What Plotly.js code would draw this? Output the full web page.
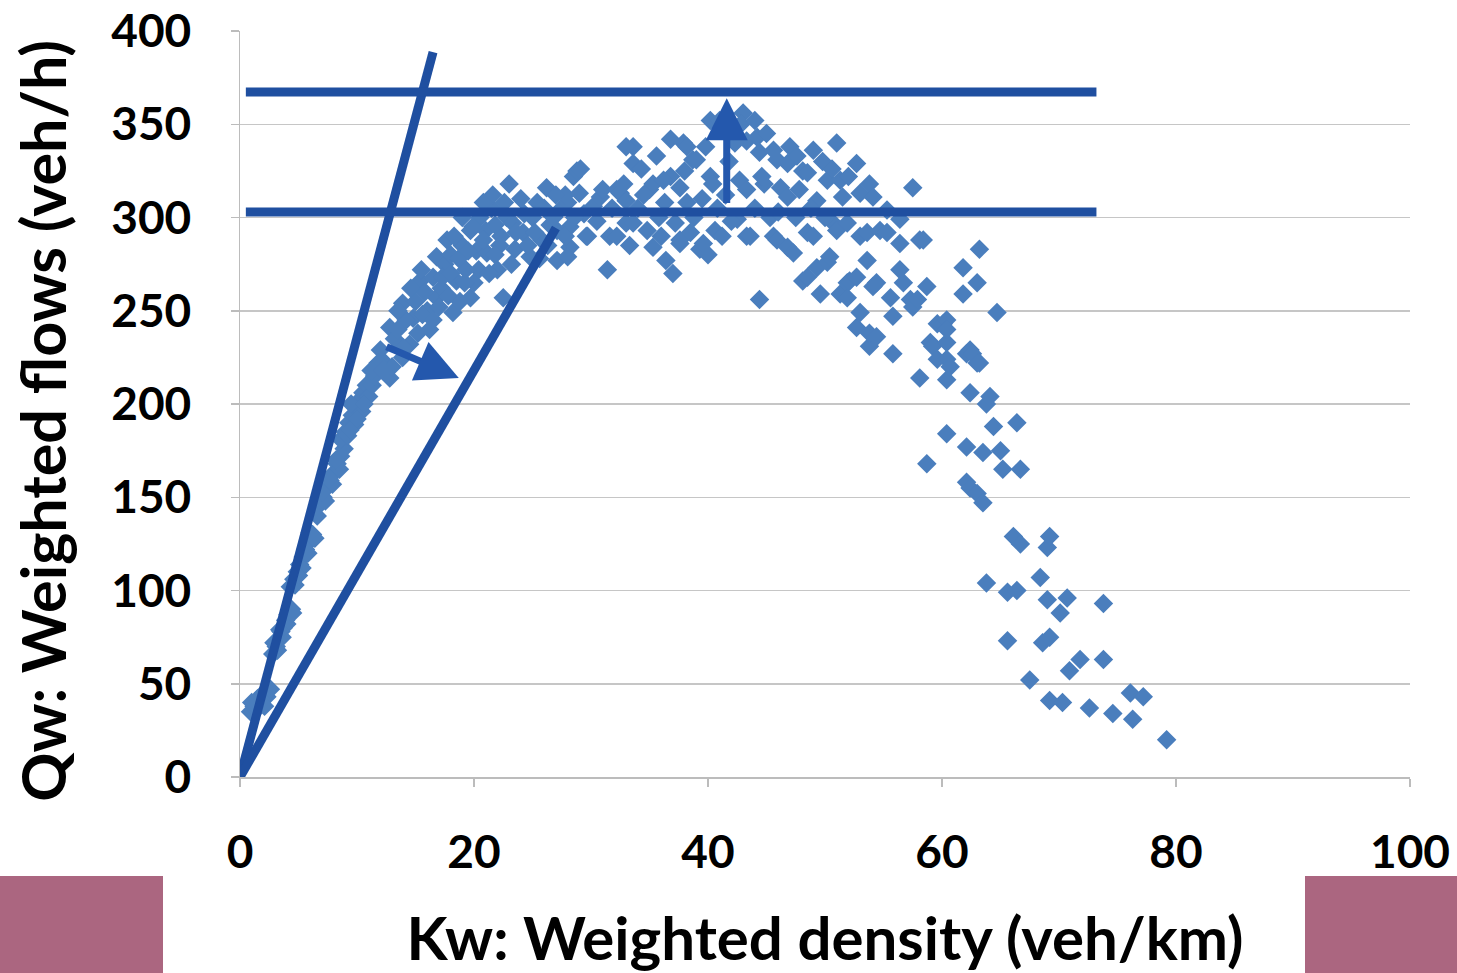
<!DOCTYPE html>
<html>
<head>
<meta charset="utf-8">
<script src="https://cdn.plot.ly/plotly-3.0.1.min.js"></script>
<style>
html,body{margin:0;padding:0;background:#fff;}
#wrap{position:relative;width:1457px;height:973px;overflow:hidden;}
#chart{position:absolute;left:0;top:0;width:1457px;height:973px;}
.pink{position:absolute;background:#ab6680;}
</style>
</head>
<body>
<div id="wrap">
<div class="pink" style="left:0;top:876px;width:163px;height:97px;"></div>
<div class="pink" style="left:1305px;top:876px;width:152px;height:97px;"></div>
<div id="chart"></div>
</div>
<script>
// Observed points: density k (veh/km) and flow q (veh/h)
const densityK = [
 0.9,1.2,1.5,1.8,2.0,2.3,1.4,2.6,1.0,2.1,
 2.8,3.1,3.3,3.5,3.7,3.9,4.1,4.4,3.2,3.6,4.0,4.5,2.9,3.4,
 4.3,4.6,4.9,5.1,5.4,5.6,5.9,6.2,4.7,5.3,5.8,6.4,5.0,6.0,
 6.8,7.1,7.4,7.7,8.0,8.3,8.6,8.9,7.3,7.9,8.5,7.0,
 8.6,9.0,9.3,9.6,9.9,10.2,10.5,10.8,9.2,9.8,10.4,11.0,11.3,9.5,
 12.0,12.8,12.8,13.9,13.9,13.2,12.4,14.5,14.8,15.4,15.0,16.2,16.0,16.8,16.8,16.5,17.7,17.5,17.2,18.2,
 18.5,18.0,18.8,19.7,19.7,19.3,19.0,20.5,20.2,20.0,21.1,21.0,21.5,21.6,22.0,22.5,22.3,22.8,23.0,23.3,
 23.5,24.0,24.2,24.8,25.0,25.4,25.8,26.2,26.5,27.1,27.1,27.5,28.2,28.0,28.5,28.8,28.2,28.0,29.7,29.1,
 29.0,29.6,30.2,30.8,31.0,31.4,31.6,32.2,32.2,32.5,33.0,33.0,33.6,33.6,33.6,33.0,35.0,35.3,35.3,36.8,
 36.8,37.0,37.6,37.6,37.6,37.9,38.2,38.2,38.7,39.0,39.3,39.6,40.2,40.2,40.4,41.0,42.5,42.7,43.0,43.3,
 43.3,43.3,43.6,44.2,44.4,44.4,45.0,45.3,45.6,45.6,45.9,45.9,46.2,46.8,46.8,46.8,47.3,48.1,48.1,48.5,
 48.5,48.5,49.0,49.0,49.3,49.3,49.6,50.2,50.2,50.4,50.7,51.0,51.0,51.3,51.3,51.5,51.9,51.9,51.9,52.1,
 52.7,52.7,52.7,53.0,53.0,53.0,53.6,53.6,53.8,53.8,53.8,54.1,54.1,54.4,54.4,54.7,55.3,55.3,55.6,55.8,
 55.8,56.4,56.4,56.4,56.7,57.3,57.5,57.5,57.9,58.1,58.1,58.4,58.7,58.7,59.0,59.2,59.6,59.6,60.1,60.4,
 60.4,60.4,60.4,60.4,60.4,60.7,61.8,61.8,62.1,62.1,62.1,62.4,62.4,62.4,62.6,63.0,63.0,63.0,63.2,63.2,
 63.5,63.5,63.8,63.8,64.1,64.4,64.7,65.0,65.2,65.6,65.6,66.1,66.4,66.4,66.7,66.7,67.5,68.4,68.6,69.0,
 69.0,69.2,69.2,69.2,70.1,70.3,70.7,70.9,71.8,72.6,73.8,73.8,74.6,76.1,76.3,77.2,79.2,
 26.8,27.8,29.4,30.5,31.8,32.8,34.0,34.5,35.8,36.3,37.2,38.8,39.5,40.8,41.5,42.0,44.0,44.8,46.0,47.5,
 47.8,48.8,50.0,34.3,35.6,36.2,38.0,39.8,41.8,42.3,44.6,47.0,47.6,49.8,50.6,52.0,42.8,44.0,41.6,33.3,
 34.8,36.0,38.5,40.6,41.2,40.0,36.4,
 13.0,13.5,14.2,14.0,15.2,15.6,15.8,16.5,17.0,17.3,17.8,18.0,18.3,18.7,19.2,19.5,19.9,20.4,20.8,21.3,
 21.8,22.2,22.6,23.2,23.6,24.3,24.6,25.2,25.6,26.0,26.3,27.0,27.8,28.6,15.5,14.6,13.5,19.0,20.8,21.8,
 10.0,10.6,11.5,11.8,11.2,12.2,9.4,8.2,7.6,6.6
];
const flowQ = [
 35,38,42,40,45,43,36,47,40,38,
 66,70,74,78,80,84,87,90,68,75,82,88,72,79,
 102,106,110,114,118,122,126,130,103,112,120,128,108,131,
 146,150,155,159,163,168,172,176,148,157,165,153,
 181,185,190,194,198,202,206,210,183,189,196,204,210,200,
 229,214,241,225,254,235,222,232,246,266,255,240,250,257,279,268,288,275,262,249,
 266,280,255,257,293,272,285,300,282,265,281,293,305,312,272,257,290,300,318,297,
 283,310,292,279,300,308,288,316,296,277,293,305,284,308,322,325,295,279,290,326,
 313,290,306,311,315,272,290,315,290,313,309,297,297,338,329,338,315,318,284,322,
 342,270,286,316,288,340,308,338,331,331,283,286,322,352,318,352,299,320,356,341,
 315,290,290,343,335,256,345,300,336,290,331,288,316,329,311,284,281,325,266,324,
 292,268,336,290,309,273,259,320,276,279,297,340,293,320,259,311,297,265,257,266,
 329,268,241,313,290,249,292,277,318,231,238,311,263,265,236,293,304,292,257,247,
 227,299,286,272,265,256,316,252,256,288,214,288,263,168,233,231,243,224,243,245,
 233,224,213,240,184,220,273,259,227,177,158,206,229,155,227,265,222,152,283,222,
 174,147,200,104,204,188,249,175,165,99,73,129,190,100,165,125,52,107,72,123,
 95,129,75,41,88,40,96,57,63,37,93,63,34,45,31,43,20,
 300,312,302,298,305,318,305,312,300,308,297,300,310,305,312,298,305,318,303,300,
 315,305,300,326,333,320,325,338,330,340,322,338,333,330,326,322,350,352,345,285,
 293,290,292,293,290,280,277,
 220,240,245,230,238,248,260,245,252,268,258,270,290,278,265,282,295,272,288,270,
 296,285,308,275,292,302,285,292,278,305,285,312,290,300,272,262,250,300,308,280,
 192,200,215,222,218,218,186,170,160,140
];

// Guide lines drawn on the chart (density, flow)
const steepLineK = [0, 16.5];
const steepLineQ = [0, 388.7];
const shallowLineK = [0, 27.0];
const shallowLineQ = [0, 294.4];
const capacityLineK = [0.5, 73.2];
const upperCapacityQ = [367.3, 367.3];
const lowerCapacityQ = [303.0, 303.0];

// Arrows: [fromK, fromQ, toK, toQ]
const upArrow = [41.6, 307, 41.6, 364];
const shiftArrow = [12.4, 231, 18.7, 214];

// Axis ticks and titles
const xTicks = [0, 20, 40, 60, 80, 100];
const yTicks = [0, 50, 100, 150, 200, 250, 300, 350, 400];
const xTitle = 'Kw: Weighted density (veh/km)';
const yTitle = 'Qw: Weighted flows (veh/h)';

const lineColor = '#1f4fa0';
const lineStyle = {color: lineColor, width: 9};

const traces = [
  {type:'scatter', mode:'markers', x:densityK, y:flowQ,
   marker:{symbol:'diamond', size:15, color:'#4a7ebd', line:{width:0}}, hoverinfo:'skip'},
  {type:'scatter', mode:'lines', x:steepLineK, y:steepLineQ, line:lineStyle, hoverinfo:'skip'},
  {type:'scatter', mode:'lines', x:shallowLineK, y:shallowLineQ, line:lineStyle, hoverinfo:'skip'},
  {type:'scatter', mode:'lines', x:capacityLineK, y:upperCapacityQ, line:lineStyle, hoverinfo:'skip'},
  {type:'scatter', mode:'lines', x:capacityLineK, y:lowerCapacityQ, line:lineStyle, hoverinfo:'skip'}
];

function arrow(a){
  return {x:a[2], y:a[3], ax:a[0], ay:a[1], xref:'x', yref:'y', axref:'x', ayref:'y',
    showarrow:true, arrowhead:2, arrowsize:1.2, arrowwidth:7, arrowcolor:'#2458ad', text:''};
}

const tickFont = {family:'Lato, "Open Sans", sans-serif', size:46, color:'#000', weight:'bold'};
const titleFont = {family:'Lato, "Open Sans", sans-serif', size:61, color:'#000', weight:'bold'};

const layout = {
  width:1457, height:973,
  margin:{l:240, r:47, t:31, b:196},
  paper_bgcolor:'rgba(0,0,0,0)', plot_bgcolor:'rgba(0,0,0,0)',
  showlegend:false,
  xaxis:{range:[0,100], tickvals:xTicks, ticktext:xTicks.map(String),
    showgrid:false, zeroline:false, showline:true, linecolor:'#bcbcbc', linewidth:1.5,
    ticks:'outside', ticklen:8, tickcolor:'#bcbcbc', tickwidth:1.5,
    tickfont:tickFont, ticklabelstandoff:26, automargin:false,
    title:{text:xTitle, font:{...titleFont, size:60}, standoff:42}},
  yaxis:{range:[0,400], tickvals:yTicks, ticktext:yTicks.map(String),
    showgrid:true, gridcolor:'#c6c6c6', gridwidth:1.5, zeroline:false,
    showline:true, linecolor:'#bcbcbc', linewidth:1.5,
    ticks:'outside', ticklen:8, tickcolor:'#bcbcbc', tickwidth:1.5,
    tickfont:tickFont, ticklabelstandoff:30, automargin:false},
  annotations:[
    arrow(upArrow), arrow(shiftArrow),
    {text:yTitle, xref:'paper', yref:'paper', x:-0.169, y:0.478, xanchor:'center', yanchor:'middle',
     textangle:-90, showarrow:false, font:titleFont}
  ]
};

Plotly.newPlot('chart', traces, layout, {displayModeBar:false, staticPlot:true});
</script>
</body>
</html>
